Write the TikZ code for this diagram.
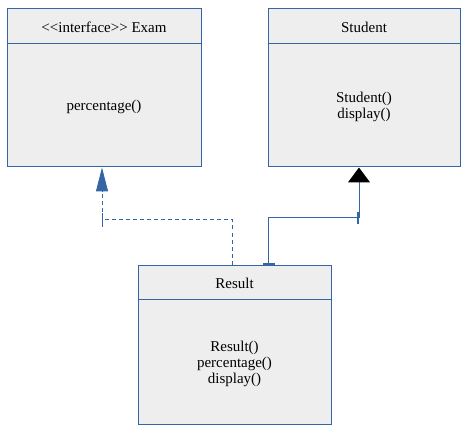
\documentclass[tikz,border=0pt]{standalone}
\usepackage{fontspec}
\setmainfont{Liberation Serif}
\usetikzlibrary{positioning,arrows.meta}
\definecolor{umlblue}{HTML}{3465A4}
\definecolor{umlgrey}{HTML}{EEEEEE}
\tikzset{
    classbox/.style={
        draw=umlblue,
        fill=umlgrey,
        line width=1pt,
        inner sep=0pt
    },
    classtext/.style={
        align=center,
        inner sep=0pt,
        font=\fontsize{15}{16}\selectfont
    },
    divider/.style={draw=umlblue, line width=1pt},
    realize/.style={draw=umlblue, line width=1pt, dash pattern=on 4pt off 3pt},
    inherit/.style={draw=umlblue, line width=1pt}
}

\begin{document}
\begin{tikzpicture}[x=1pt, y=-1pt]
\useasboundingbox (0,0) rectangle (470,435);

% CLASS BOXES
\node[classbox, minimum width=194pt, minimum height=158pt] (exam) at (104,88) {};
\draw[divider] ([yshift=-35pt]exam.north west) -- ([yshift=-35pt]exam.north east);
\node[classtext] (examname) at ([yshift=-18.5pt]exam.north)
{<\kern0pt<interface>\kern0pt> Exam};
\node[classtext] (exambody) at ([yshift=60.5pt]exam.south)
{percentage()};

\node[classbox, minimum width=192pt, minimum height=158pt] (student) at (364,88) {};
\draw[divider] ([yshift=-35pt]student.north west) -- ([yshift=-35pt]student.north east);
\node[classtext] (studentname) at ([yshift=-18.5pt]student.north)
{Student};
\node[classtext] (studentbody) at ([yshift=60.5pt]student.south)
{Student()\\display()};

\node[classbox, minimum width=193pt, minimum height=159pt] (result) at (234.5,344.5) {};
\draw[divider] ([yshift=-35pt]result.north west) -- ([yshift=-35pt]result.north east);
\node[classtext] (resultname) at ([yshift=-18.5pt]result.north)
{Result};
\node[classtext] (resultbody) at ([yshift=60.5pt]result.south)
{Result()\\percentage()\\display()};

% REALIZATION
\coordinate (examturn) at (102,220);
\draw[realize, -{Triangle[length=24pt,width=12pt]}]
    ([xshift=-2.5pt]result.north) |- (examturn) -- ([xshift=-2pt]exam.south);
\draw[inherit] ([yshift=7pt]examturn) -- ([yshift=-7pt]examturn);

% INHERITANCE
\coordinate (studentturn) at (359,218);
\draw[inherit, -{Triangle[length=15pt,width=22pt,black]}]
    ([xshift=33.5pt]result.north) |- (studentturn) -- ([xshift=-5pt]student.south);
\draw[inherit, line width=2pt] ([xshift=-1pt,yshift=6pt]studentturn) -- ([xshift=-1pt,yshift=-6pt]studentturn);
\node[fill=umlblue, minimum width=12pt, minimum height=3pt, inner sep=0pt] (resultport)
    at ([xshift=34.5pt,yshift=0.5pt]result.north) {};

\end{tikzpicture}
\end{document}
